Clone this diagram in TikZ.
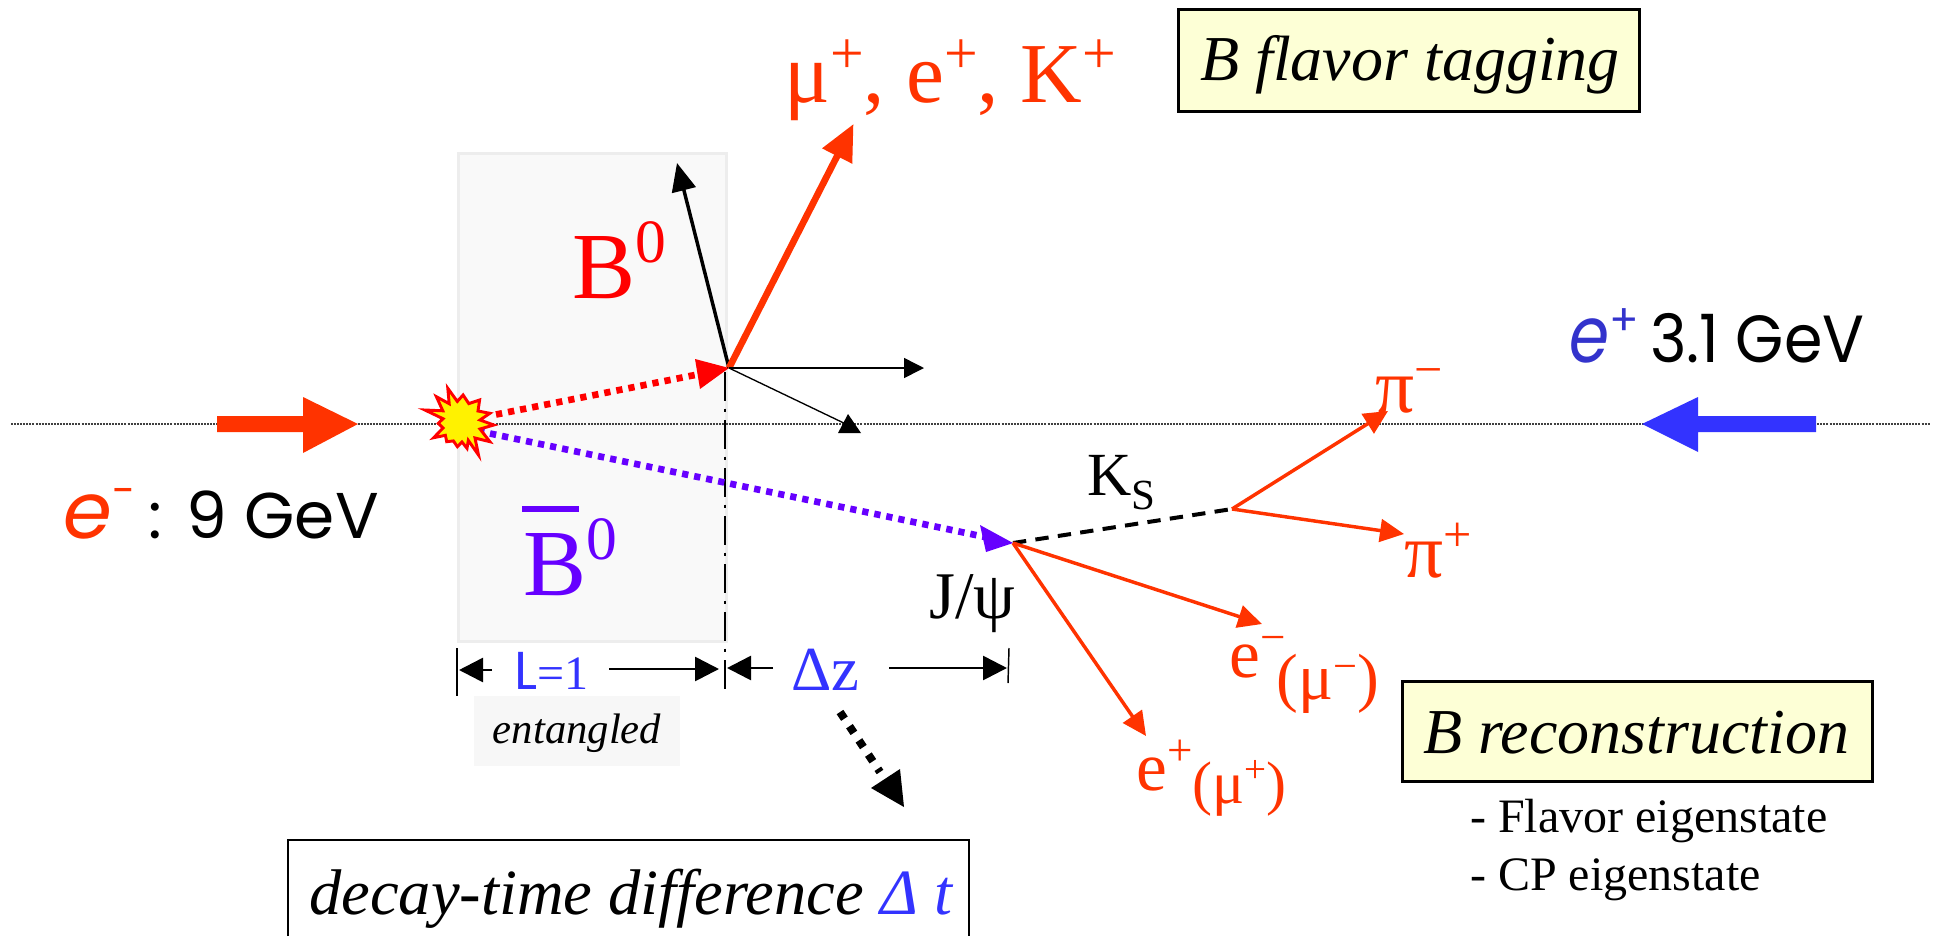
\documentclass[tikz,border=0pt]{standalone}
\usepackage{fontspec}
\setmainfont{Liberation Serif}
\newfontfamily\comic{Poppins}
\usetikzlibrary{arrows.meta}
\definecolor{orng}{HTML}{FF3300}
\definecolor{blu}{HTML}{3333FF}
\definecolor{dblu}{HTML}{3333CC}
\definecolor{purp}{HTML}{6600FF}
\definecolor{rd}{HTML}{FF0000}
\definecolor{paleyellow}{HTML}{FDFFD6}
\newcommand\fs[1]{\fontsize{#1}{#1}\selectfont}
\newcommand\sps[2][.33em]{\raisebox{#1}{\scalebox{.65}{#2}}}
\newcommand\spt[1]{\raisebox{.33em}{\scalebox{.7}{#1}}}
\newcommand\sbs[1]{\raisebox{-.23em}{\scalebox{.7}{#1}}}
\newcommand\sq[2]{\scalebox{#1}[1]{#2}}
\tikzset{
 lbl/.style={inner sep=0pt,anchor=base west},
 yellowbox/.style={draw=black,line width=1.9pt,fill=paleyellow},
 decay/.style={orng,line width=2.6pt,-{Triangle[length=18pt,width=17pt]}},
 thin arrow/.style={black,-{Triangle[length=15pt,width=15pt]}},
 dim/.style={black,line width=2pt,-{Triangle[length=18pt,width=18pt]}},
 tick/.style={black,line width=1.1pt},
 dots/.style={line width=5pt,dash pattern=on 4.7pt off 4.5pt},
}
\begin{document}
\begin{tikzpicture}[x=0.75pt,y=-0.75pt]
\useasboundingbox (0,0) rectangle (1937,936);
% entangled region
\node[draw=black!7,line width=2pt,fill=black!2.5,minimum width=201pt,minimum height=366pt,inner sep=0pt,anchor=north west] (region) at (457,152) {};
\node[fill=black!3,minimum width=154.5pt,minimum height=53pt,inner sep=0pt] (entbox) at (577,731) {};
\node[inner sep=0pt] (enttext) at (577,733) {\fs{32pt}\itshape entangled};
% beam line
\coordinate (beamL) at (11,424);
\coordinate (beamR) at (1930,424);
\draw[black!75,line width=1.1pt,dash pattern=on 1.5pt off 0.8pt] (beamL) -- (beamR);
% coordinates
\coordinate (V1) at (729,368);
\coordinate (V2) at (1013,543);
\coordinate (V3) at (1232,509);
\coordinate (tagtip) at (853.5,124);
\coordinate (bk1) at (677,163);
\coordinate (bk2) at (924,368);
\coordinate (bk3) at (850,426);
\coordinate (pim) at (1388,411);
\coordinate (pip) at (1404,534);
\coordinate (em) at (1262,624);
\coordinate (ep) at (1146,736);
% vertical dash-dot
\coordinate (vtop) at (725,372);
\coordinate (vbot) at (725,689);
\draw[black,line width=2.2pt,dash pattern=on 22pt off 5.5pt on 2.5pt off 6pt] (vtop) -- (vbot);
% beams
\fill[orng] (217,416) -- (303,416) -- (303,397) -- (358,424) -- (303,453) -- (303,432) -- (217,432) -- cycle;
\fill[blu] (1816,416) -- (1698,416) -- (1698,397) -- (1642,424) -- (1698,452) -- (1698,432) -- (1816,432) -- cycle;
% B lines
\coordinate (rs) at (496,414.5);
\coordinate (re) at (700,374);
\coordinate (ps) at (478,431);
\coordinate (pe) at (990,538);
\draw[rd,dots] (rs) -- (re);
\fill[rd] (729,368) -- (695,359) -- (700,389) -- cycle;
\draw[purp,dots] (ps) -- (pe);
\fill[purp] (V2) -- (980,525) -- (986,552) -- cycle;
% burst
\draw[fill=yellow,draw=rd,line width=2.2pt,miter limit=10]
 (447.8,388.3) -- (457.3,401.4) -- (463.1,395) -- (468.8,403.6) -- (479.6,400) -- (478,411) -- (489.9,413.3) -- (480,420) -- (493.8,425) -- (480,429) -- (489.9,441.7) -- (475,438) -- (478.5,455) -- (468.3,440.4) -- (467,448.3) -- (462,442) -- (457.4,446.7) -- (453.4,440.9) -- (446.7,441.7) -- (445.4,435.3) -- (433.7,437.7) -- (443,428) -- (438.3,423.3) -- (443,418.7) -- (424.9,410) -- (442.8,410.8) -- (436.4,396.7) -- (449.2,403.7) -- cycle;
% tag arrows
\draw[black,line width=2.6pt,-{Triangle[length=21pt,width=18pt]}] (V1) -- (bk1);
\draw[orng,line width=5pt,-{Triangle[length=27pt,width=24pt]}] (V1) -- (tagtip);
\draw[thin arrow,line width=1.1pt] (V1) -- (bk2);
\draw[black,line width=1pt] (V1) -- (bk3);
\fill[black] (848,414) -- (838,433) -- (861,433) -- cycle;
% B decay
\draw[black,line width=3pt,dash pattern=on 10pt off 7pt] (V2) -- (V3);
\draw[decay] (V3) -- (pim);
\draw[decay] (V3) -- (pip);
\draw[decay] (V2) -- (em);
\draw[decay] (V2) -- (ep);
% dims
\coordinate (t1a) at (457,648); \coordinate (t1b) at (457,696);
\coordinate (t2a) at (1009,648); \coordinate (t2b) at (1008,683);
\draw[tick] (t1a) -- (t1b);
\draw[tick] (t2a) -- (t2b);
\draw[dim] (492,670) coordinate (a1) -- (459,670);
\draw[dim] (609,669) coordinate (a2) -- (719,669);
\draw[dim] (773,668) coordinate (a3) -- (727,668);
\draw[dim] (889,668) coordinate (a4) -- (1007,668);
% dotted
\draw[black,line width=6pt,dash pattern=on 6pt off 6.8pt] (840,712) coordinate (d1) -- (880,772) coordinate (d2);
\fill[black] (904,807) -- (900,769) -- (871,788) -- cycle;
% labels
\node[lbl,text=orng] (tag) at (784,102) {\fs{64pt}μ\spt{+}, e\spt{+}, K\spt{+}};
\node[yellowbox,minimum width=345.75pt,minimum height=76.5pt,inner sep=0pt,anchor=north west] (bflav) at (1177,8) {};
\node[lbl] (bflavt) at (1200,80) {\fs{48pt}\itshape B flavor tagging};
\node[lbl,text=rd] (B0) at (572,298) {\fs{71pt}B\sps[.37em]{0}};
\node[lbl,text=purp] (B0bar) at (523,595) {\fs{71pt}B\sps[.37em]{0}};
\draw[purp,line width=3.8pt] (522,509) coordinate (barA) -- (579,509) coordinate (barB);
\node[lbl] (eminus) at (63,538) {\fs{48.5pt}\comic\textcolor{orng}{\textit{\fs{59pt}e}\sps[.5em]{-}}\hspace{10pt}:\hspace{1pt} 9 GeV};
\node[lbl] (eplus) at (1569,362) {\fs{50pt}\comic\textcolor{dblu}{\sq{.82}{\textit{\fs{59pt}e}}\sps[.4em]{+}}\hspace{-5pt} \sq{.93}{3.1 GeV}};
\node[lbl,text=orng] (pimL) at (1375,412) {\fs{58pt}π\sps{−}};
\node[lbl,text=orng] (pipL) at (1404,577) {\fs{58pt}π\sps{+}};
\node[lbl] (Ks) at (1087,495) {\fs{46pt}K\sbs{S}};
\node[lbl] (jpsi) at (929,618) {\fs{50pt}J/ψ};
\node[lbl,text=orng] (emL) at (1229,677) {\fs{52pt}e\sps[.36em]{−}\kern-.13em\raisebox{-.33em}{\fs{49pt}(μ\sps[.3em]{−})}};
\node[lbl,text=orng] (epL) at (1136,790) {\fs{52pt}e\sps[.36em]{+}\raisebox{-.2em}{\fs{45pt}(μ\sps[.35em]{+})}};
\node[lbl,text=blu] (L1) at (514,689) {\fs{36pt}{\comic\fs{40pt}L}=1};
\node[lbl,text=blu] (dz) at (791,690) {\fs{47pt}Δz};
\node[yellowbox,minimum width=352.5pt,minimum height=75pt,inner sep=0pt,anchor=north west] (brec) at (1401,680) {};
\node[lbl] (brect) at (1423,753) {\fs{48pt}\itshape B reconstruction};
\node[lbl] (fl) at (1470,832) {\fs{36pt}- Flavor eigenstate};
\node[lbl] (cp) at (1470,890) {\fs{36pt}- CP eigenstate};
\node[lbl] (dt) at (309,914) {\fs{48.4pt}\itshape decay-time difference \textcolor{blu}{Δ t}};
\draw[black,line width=1.6pt] (288,936) coordinate (da) -- (288,840) coordinate (db) -- (969,840) coordinate (dc) -- (969,936) coordinate (dd);
\end{tikzpicture}
\end{document}
